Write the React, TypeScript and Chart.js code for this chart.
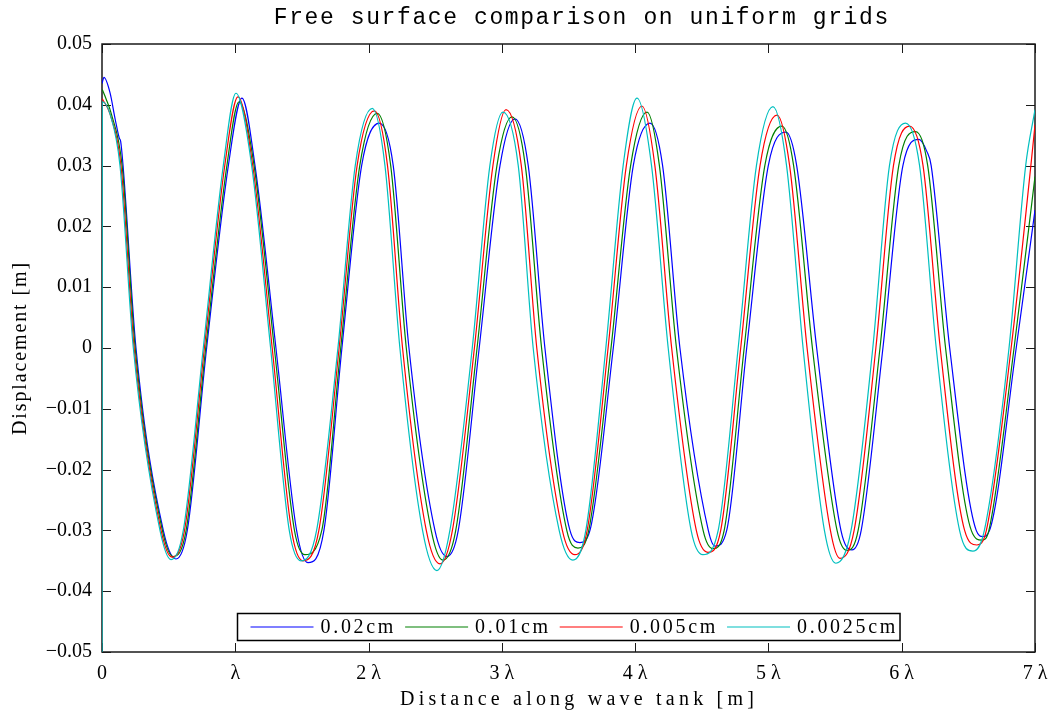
import React, { useEffect, useRef } from 'react';
import { Chart, registerables } from 'chart.js';

Chart.register(...registerables);

// ---------- text ----------
const TITLE = 'Free surface comparison on uniform grids';
const X_TITLE = 'Distance along wave tank [m]';
const Y_TITLE = 'Displacement [m]';
const X_TICK_LABELS = ['0', 'λ', '2 λ', '3 λ', '4 λ', '5 λ', '6 λ', '7 λ'];
const Y_MIN = -0.05;
const Y_MAX = 0.05;
const Y_STEP = 0.01;
const X_MIN = 0;
const X_MAX = 7;
const SERIES_LABELS = ['0.02cm', '0.01cm', '0.005cm', '0.0025cm'];

// ---------- data: [x in wavelengths, displacement in m] ----------
const blue02: number[][] = [
  [0, 0.0435], [0.015, 0.0445], [0.06, 0.042], [0.1, 0.0375], [0.13, 0.0345], [0.14, 0.034],
  [0.158, 0.03], [0.255, 0], [0.46, -0.03], [0.555, -0.0347], [0.64, -0.03], [0.785, 0],
  [0.948, 0.03], [1.05, 0.0411], [1.148, 0.03], [1.305, 0], [1.46, -0.03], [1.545, -0.0353],
  [1.665, -0.03], [1.8, 0], [1.948, 0.03], [2.08, 0.037], [2.185, 0.03], [2.303, 0],
  [2.498, -0.03], [2.588, -0.0343], [2.673, -0.03], [2.83, 0], [2.986, 0.03], [3.098, 0.0377],
  [3.198, 0.03], [3.323, 0], [3.511, -0.03], [3.586, -0.032], [3.661, -0.03], [3.836, 0],
  [3.986, 0.03], [4.111, 0.037], [4.206, 0.03], [4.336, 0], [4.549, -0.03], [4.6, -0.0326],
  [4.687, -0.03], [4.837, 0], [4.999, 0.03], [5.131, 0.0355], [5.212, 0.03], [5.362, 0],
  [5.544, -0.03], [5.627, -0.0332], [5.696, -0.03], [5.859, 0], [6.009, 0.03], [6.129, 0.0343],
  [6.189, 0.0323], [6.221, 0.03], [6.36, 0], [6.559, -0.03], [6.609, -0.031], [6.659, -0.03],
  [6.859, 0], [7.0, 0.0227],
];

const green01: number[][] = [
  [0.002, 0.0425], [0.03, 0.041], [0.07, 0.0385], [0.151, 0.03], [0.249, 0], [0.453, -0.03],
  [0.533, -0.0343], [0.631, -0.03], [0.778, 0], [0.937, 0.03], [1.028, 0.0405], [1.141, 0.03],
  [1.293, 0], [1.444, -0.03], [1.523, -0.034], [1.649, -0.03], [1.791, 0], [1.934, 0.03],
  [2.065, 0.0386], [2.166, 0.03], [2.283, 0], [2.47, -0.03], [2.558, -0.0349], [2.654, -0.03],
  [2.814, 0], [2.963, 0.03], [3.076, 0.038], [3.176, 0.03], [3.298, 0], [3.487, -0.03],
  [3.571, -0.0329], [3.652, -0.03], [3.819, 0], [3.966, 0.03], [4.089, 0.0388], [4.182, 0.03],
  [4.31, 0], [4.51, -0.03], [4.584, -0.033], [4.668, -0.03], [4.818, 0], [4.973, 0.03],
  [5.101, 0.0365], [5.189, 0.03], [5.33, 0], [5.515, -0.03], [5.589, -0.0333], [5.673, -0.03],
  [5.837, 0], [5.978, 0.03], [6.104, 0.0356], [6.195, 0.03], [6.329, 0], [6.522, -0.03],
  [6.602, -0.0316], [6.654, -0.03], [6.843, 0], [7.0, 0.0282],
];

const red005: number[][] = [
  [0.002, 0.041], [0.06, 0.0385], [0.142, 0.03], [0.241, 0], [0.443, -0.03], [0.525, -0.0344],
  [0.619, -0.03], [0.768, 0], [0.921, 0.03], [1.02, 0.0413], [1.131, 0.03], [1.277, 0],
  [1.422, -0.03], [1.508, -0.035], [1.627, -0.03], [1.779, 0], [1.914, 0.03], [2.043, 0.039],
  [2.142, 0.03], [2.255, 0], [2.433, -0.03], [2.536, -0.0355], [2.629, -0.03], [2.794, 0],
  [2.933, 0.03], [3.031, 0.0392], [3.146, 0.03], [3.262, 0], [3.454, -0.03], [3.548, -0.034],
  [3.64, -0.03], [3.797, 0], [3.934, 0.03], [4.051, 0.0398], [4.148, 0.03], [4.274, 0],
  [4.459, -0.03], [4.546, -0.0336], [4.642, -0.03], [4.792, 0], [4.937, 0.03], [5.064, 0.0383],
  [5.159, 0.03], [5.29, 0], [5.465, -0.03], [5.537, -0.0346], [5.643, -0.03], [5.806, 0],
  [5.938, 0.03], [6.059, 0.0365], [6.16, 0.03], [6.289, 0], [6.472, -0.03], [6.564, -0.0324],
  [6.635, -0.03], [6.821, 0], [6.969, 0.03], [7.0, 0.0367],
];

const cyan0025: number[][] = [
  [0, -0.05], [0.002, 0.0405], [0.06, 0.0385], [0.135, 0.03], [0.235, 0], [0.435, -0.03],
  [0.518, -0.0348], [0.61, -0.03], [0.76, 0], [0.91, 0.03], [1.005, 0.0419], [1.123, 0.03],
  [1.265, 0], [1.405, -0.03], [1.493, -0.035], [1.61, -0.03], [1.77, 0], [1.9, 0.03],
  [2.028, 0.0394], [2.123, 0.03], [2.235, 0], [2.405, -0.03], [2.513, -0.0366], [2.61, -0.03],
  [2.778, 0], [2.91, 0.03], [3.008, 0.0388], [3.123, 0.03], [3.235, 0], [3.43, -0.03],
  [3.533, -0.0349], [3.63, -0.03], [3.78, 0], [3.91, 0.03], [4.014, 0.0411], [4.123, 0.03],
  [4.248, 0], [4.42, -0.03], [4.508, -0.034], [4.623, -0.03], [4.773, 0], [4.91, 0.03],
  [5.034, 0.0397], [5.136, 0.03], [5.26, 0], [5.42, -0.03], [5.506, -0.0354], [5.62, -0.03],
  [5.783, 0], [5.908, 0.03], [6.029, 0.037], [6.134, 0.03], [6.259, 0], [6.434, -0.03],
  [6.534, -0.0334], [6.62, -0.03], [6.805, 0], [6.93, 0.03], [7.0, 0.0392],
];

const SERIES_DATA = [blue02, green01, red005, cyan0025];
const SERIES_COLORS = ['#0000ff', '#008000', '#ff0000', '#00bfbf'];

const SERIF = "'Liberation Serif', 'DejaVu Serif', serif";
const MONO = "'Liberation Mono', 'DejaVu Sans Mono', monospace";

function drawSpaced(ctx: any, text: string, cx: number, cy: number, font: string, targetW: number) {
  ctx.font = font;
  ctx.letterSpacing = '0px';
  const w0 = ctx.measureText(text).width;
  const sp = Math.max(0, (targetW - w0) / text.length);
  ctx.letterSpacing = sp + 'px';
  ctx.textAlign = 'left';
  ctx.textBaseline = 'middle';
  ctx.fillText(text, cx - (targetW - sp) / 2, cy);
  ctx.letterSpacing = '0px';
}

const framePlugin = {
  id: 'frameTicks',
  beforeDatasetsDraw(chart: any) {
    const { ctx, chartArea: a, scales } = chart;
    const L = 9;
    ctx.save();
    ctx.strokeStyle = '#1a1a1a';
    ctx.lineWidth = 1;
    ctx.beginPath();
    scales.x.ticks.forEach((t: any) => {
      const px = Math.round(scales.x.getPixelForValue(t.value)) + 0.5;
      ctx.moveTo(px, a.bottom);
      ctx.lineTo(px, a.bottom - L);
      ctx.moveTo(px, a.top);
      ctx.lineTo(px, a.top + L);
    });
    scales.y.ticks.forEach((t: any) => {
      const py = Math.round(scales.y.getPixelForValue(t.value)) + 0.5;
      ctx.moveTo(a.left, py);
      ctx.lineTo(a.left + L, py);
      ctx.moveTo(a.right, py);
      ctx.lineTo(a.right - L, py);
    });
    ctx.stroke();
    ctx.lineWidth = 1.5;
    ctx.strokeRect(a.left, a.top, a.right - a.left, a.bottom - a.top);
    ctx.restore();
  },
};

const legendPlugin = {
  id: 'insideLegend',
  afterDatasetsDraw(chart: any) {
    const { ctx, chartArea: a } = chart;
    const font = `20px ${SERIF}`;
    ctx.save();
    ctx.font = font;
    ctx.letterSpacing = '0px';
    const ref = ctx.measureText('0.0025cm').width;
    const sp = Math.max(0, (101 - ref) / 8);
    ctx.letterSpacing = sp + 'px';
    const ds = chart.data.datasets;
    const padL = 13, lineW = 63, gap = 7, itemGap = 9, padR = 2;
    const widths = ds.map((d: any) => ctx.measureText(d.label).width);
    const total = padL + ds.length * (lineW + gap) + widths.reduce((s: number, w: number) => s + w, 0) + (ds.length - 1) * itemGap + padR;
    const top = a.bottom - 39;
    const h = 27;
    const left = Math.round((a.left + a.right) / 2 - total / 2) + 0.5;
    ctx.fillStyle = '#ffffff';
    ctx.fillRect(left, top, total, h);
    ctx.strokeStyle = '#000000';
    ctx.lineWidth = 1.5;
    ctx.strokeRect(left, top + 0.5, total, h);
    const cy = top + h / 2 + 0.5;
    let x = left + padL;
    ds.forEach((d: any, i: number) => {
      ctx.strokeStyle = d.borderColor;
      ctx.lineWidth = 1.2;
      ctx.beginPath();
      ctx.moveTo(x, cy);
      ctx.lineTo(x + lineW, cy);
      ctx.stroke();
      x += lineW + gap;
      ctx.fillStyle = '#000';
      ctx.textAlign = 'left';
      ctx.textBaseline = 'middle';
      ctx.fillText(d.label, x, cy + 1);
      x += widths[i] + itemGap;
    });
    ctx.restore();
  },
};

const textPlugin = {
  id: 'titles',
  afterDraw(chart: any) {
    const { ctx } = chart;
    ctx.save();
    ctx.fillStyle = '#000';
    drawSpaced(ctx, TITLE, 581, 18, `23px ${MONO}`, 616);
    drawSpaced(ctx, X_TITLE, 577, 700, `20px ${SERIF}`, 358);
    ctx.translate(21, 349);
    ctx.rotate(-Math.PI / 2);
    drawSpaced(ctx, Y_TITLE, 0, 0, `20px ${SERIF}`, 174);
    ctx.restore();
  },
};

function formatY(v: number): string {
  const r = Math.round(v * 100) / 100;
  if (Math.abs(r) < 1e-9) return '0';
  return (r < 0 ? '\u2212' : '') + Math.abs(r).toFixed(2);
}

export default function App() {
  const ref = useRef<HTMLCanvasElement | null>(null);

  useEffect(() => {
    if (!ref.current) return;
    const datasets = SERIES_DATA.map((pts, i) => ({
      label: SERIES_LABELS[i],
      data: pts.map(([x, y]) => ({ x, y })),
      borderColor: SERIES_COLORS[i],
      backgroundColor: SERIES_COLORS[i],
      borderWidth: 1.2,
      pointRadius: 0,
      fill: false,
      cubicInterpolationMode: 'monotone' as const,
      order: SERIES_DATA.length - 1 - i,
    }));
    const chart = new Chart(ref.current, {
      type: 'line',
      data: { datasets },
      plugins: [framePlugin, legendPlugin, textPlugin],
      options: {
        animation: false,
        responsive: true,
        maintainAspectRatio: false,
        layout: { padding: { top: 44, right: 18, bottom: 0, left: 0 } },
        plugins: {
          legend: { display: false },
          title: { display: false },
          tooltip: { enabled: false },
        },
        scales: {
          x: {
            type: 'linear',
            min: X_MIN,
            max: X_MAX,
            grid: { display: false, drawTicks: false },
            border: { display: false },
            ticks: {
              stepSize: 1,
              padding: 10,
              color: '#000',
              maxRotation: 0,
              autoSkip: false,
              font: { family: SERIF, size: 20 },
              callback: (v: any) => X_TICK_LABELS[Math.round(Number(v))] ?? '',
            },
            afterFit: (s: any) => { s.height = 63; s.paddingLeft = 0; s.paddingRight = 0; },
          },
          y: {
            type: 'linear',
            min: Y_MIN,
            max: Y_MAX,
            grid: { display: false, drawTicks: false },
            border: { display: false },
            ticks: {
              stepSize: Y_STEP,
              padding: 10,
              color: '#000',
              autoSkip: false,
              font: { family: SERIF, size: 20 },
              callback: (v: any) => formatY(Number(v)),
            },
            afterFit: (s: any) => { s.width = 102; s.paddingTop = 0; s.paddingBottom = 0; },
          },
        },
      },
    });
    return () => chart.destroy();
  }, []);

  return (
    <div style={{ position: 'fixed', left: 0, top: 0, width: 1053, height: 715, background: '#ffffff' }}>
      <canvas ref={ref} />
    </div>
  );
}
